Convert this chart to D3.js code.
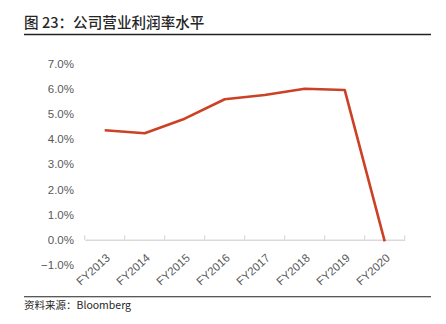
<!DOCTYPE html>
<html>
<head>
<meta charset="utf-8">
<script src="https://cdn.jsdelivr.net/npm/d3@7/dist/d3.min.js"></script>
<style>
  html, body { margin: 0; padding: 0; background: #fff; }
  svg { display: block; }
</style>
</head>
<body>
<svg id="chart" width="446" height="324"></svg>
<script>
// Operating margin by fiscal year (%)
const categories = ["FY2013", "FY2014", "FY2015", "FY2016", "FY2017", "FY2018", "FY2019", "FY2020"];
const margin = [4.35, 4.23, 4.81, 5.58, 5.75, 6.0, 5.95, -0.06];
const yTicks = [-1, 0, 1, 2, 3, 4, 5, 6, 7];

const svg = d3.select("#chart");
const cjk = "'Noto Sans CJK SC', 'Noto Sans', sans-serif";
const latin = "'Liberation Sans', Arial, sans-serif";

// Title and rule
svg.append("text")
  .attr("x", 24).attr("y", 27.5)
  .attr("font-family", cjk)
  .attr("font-size", 14.6)
  .attr("font-weight", 500)
  .attr("fill", "#262626")
  .text("图 23：公司营业利润率水平");
svg.append("line")
  .attr("x1", 24).attr("x2", 431).attr("y1", 34.5).attr("y2", 34.5)
  .attr("stroke", "#222").attr("stroke-width", 1.3);

// Scales
const x = d3.scaleBand().domain(categories).range([84.7, 404.7]);
const y = d3.scaleLinear().domain([-1, 7]).range([265, 63.5]);

// Y axis labels only (no axis line)
const yAxis = d3.axisLeft(y)
  .tickValues(yTicks)
  .tickSize(0)
  .tickPadding(0)
  .tickFormat(d => d3.format(".1f")(d) + "%");
const gy = svg.append("g").attr("transform", "translate(74,0)").call(yAxis);
gy.select(".domain").remove();
gy.selectAll("text")
  .attr("font-family", latin)
  .attr("font-size", 11.5)
  .attr("fill", "#595959");

// X axis along zero, ticks pointing up
const xAxis = d3.axisBottom(x).tickSize(0).tickFormat(d => d);
const gx = svg.append("g").attr("transform", `translate(0,${y(0)})`).call(xAxis);
gx.select(".domain")
  .attr("stroke", "#d9d9d9").attr("stroke-width", 1.5);
gx.selectAll(".tick line").remove();
const edges = [...categories.map(c => x(c)), x(categories[categories.length - 1]) + x.bandwidth()];
gx.selectAll("line.edge").data(edges).join("line")
  .attr("class", "edge")
  .attr("x1", d => d).attr("x2", d => d)
  .attr("y1", 0).attr("y2", -4.5)
  .attr("stroke", "#d9d9d9").attr("stroke-width", 1.2);
gx.selectAll(".tick text")
  .attr("font-family", latin)
  .attr("font-size", 11.5)
  .attr("fill", "#595959")
  .attr("text-anchor", "end")
  .attr("dy", 0)
  .attr("transform", "translate(4,17) rotate(-42)");

// Margin line
const line = d3.line()
  .x((d, i) => x(categories[i]) + x.bandwidth() / 2)
  .y(d => y(d));
svg.append("path")
  .datum(margin)
  .attr("d", line)
  .attr("fill", "none")
  .attr("stroke", "#CC4125")
  .attr("stroke-width", 2.6)
  .attr("stroke-linejoin", "round");

// Source footer
svg.append("line")
  .attr("x1", 24).attr("x2", 431).attr("y1", 296.7).attr("y2", 296.7)
  .attr("stroke", "#222").attr("stroke-width", 1.1);
svg.append("text")
  .attr("x", 24).attr("y", 309)
  .attr("font-family", cjk)
  .attr("font-size", 10.5)
  .attr("fill", "#262626")
  .text("资料来源：Bloomberg");
</script>
</body>
</html>
